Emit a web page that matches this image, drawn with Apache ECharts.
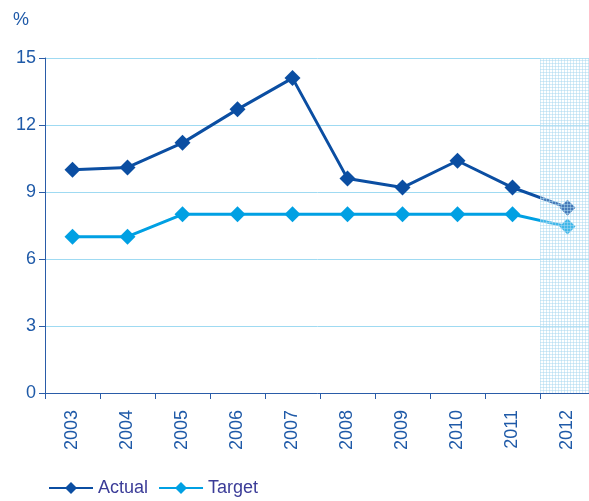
<!DOCTYPE html>
<html><head><meta charset="utf-8">
<script src="https://cdn.jsdelivr.net/npm/echarts@6/dist/echarts.min.js"></script>
<style>html,body{margin:0;padding:0;background:#fff}#c{width:589px;height:501px}</style>
</head><body><div id="c"></div>
<script>
var years = ['2003','2004','2005','2006','2007','2008','2009','2010','2011','2012'];
var actual = [10.0, 10.1, 11.2, 12.7, 14.1, 9.6, 9.2, 10.4, 9.2, 8.3];
var target = [7.0, 7.0, 8.0, 8.0, 8.0, 8.0, 8.0, 8.0, 8.0, 7.45];
var shaded = [null, null, null, null, null, null, null, null, null, 15];
var yTicks = [0, 3, 6, 9, 12, 15];

var pc = document.createElement('canvas');
pc.width = 3; pc.height = 3;
var g = pc.getContext('2d');
g.fillStyle = 'rgba(255,255,255,0.25)';
g.fillRect(0,0,3,3);
g.fillStyle = 'rgba(170,215,240,0.5)';
g.fillRect(0,0,3,1);
g.fillRect(0,0,1,3);

var chart = echarts.init(document.getElementById('c'));
var font = '"Liberation Sans", Arial, sans-serif';
chart.setOption({
  animation: false,
  textStyle: {fontFamily: font},
  grid: {left: 45, right: -6, top: 58, bottom: 108, outerBoundsMode: 'none', containLabel: false},
  legend: {
    left: 43, top: 474, itemWidth: 44, itemHeight: 15, itemGap: 10,
    textStyle: {fontSize: 18, color: '#3b3c98', fontFamily: font},
    data: ['Actual', 'Target']
  },
  xAxis: {
    type: 'category', data: years, boundaryGap: true,
    axisLine: {lineStyle: {color: '#2a5ca8', width: 1}},
    axisTick: {show: true, length: 6, lineStyle: {color: '#2a5ca8'}},
    axisLabel: {rotate: 90, fontSize: 18, color: '#1f5aa8', margin: 17, fontFamily: font}
  },
  yAxis: {
    type: 'value', min: yTicks[0], max: yTicks[yTicks.length-1], interval: 3,
    name: '%', nameLocation: 'end', nameGap: 29,
    nameTextStyle: {fontSize: 18, color: '#1f5aa8', align: 'right', padding: [0, 16, 0, 0], fontFamily: font},
    axisLine: {show: true, lineStyle: {color: '#2a5ca8', width: 1}},
    axisTick: {show: true, length: 6, lineStyle: {color: '#2a5ca8'}},
    axisLabel: {fontSize: 18, color: '#1f5aa8', margin: 9, fontFamily: font},
    splitLine: {show: true, lineStyle: {color: '#9fdaf2', width: 1}}
  },
  series: [
    {
      name: 'Actual', type: 'line', data: actual, z: 3,
      symbol: 'diamond', symbolSize: 16,
      lineStyle: {color: '#0b4ea2', width: 3},
      itemStyle: {color: '#0b4ea2'}
    },
    {
      name: 'Target', type: 'line', data: target, z: 2,
      symbol: 'diamond', symbolSize: 16,
      lineStyle: {color: '#00a0e3', width: 3},
      itemStyle: {color: '#00a0e3'}
    },
    {
      name: 'Forecast', type: 'bar', data: shaded, z: 5,
      barWidth: '100%', silent: true,
      itemStyle: {color: {image: pc, repeat: 'repeat'}}
    }
  ]
});
</script></body></html>
